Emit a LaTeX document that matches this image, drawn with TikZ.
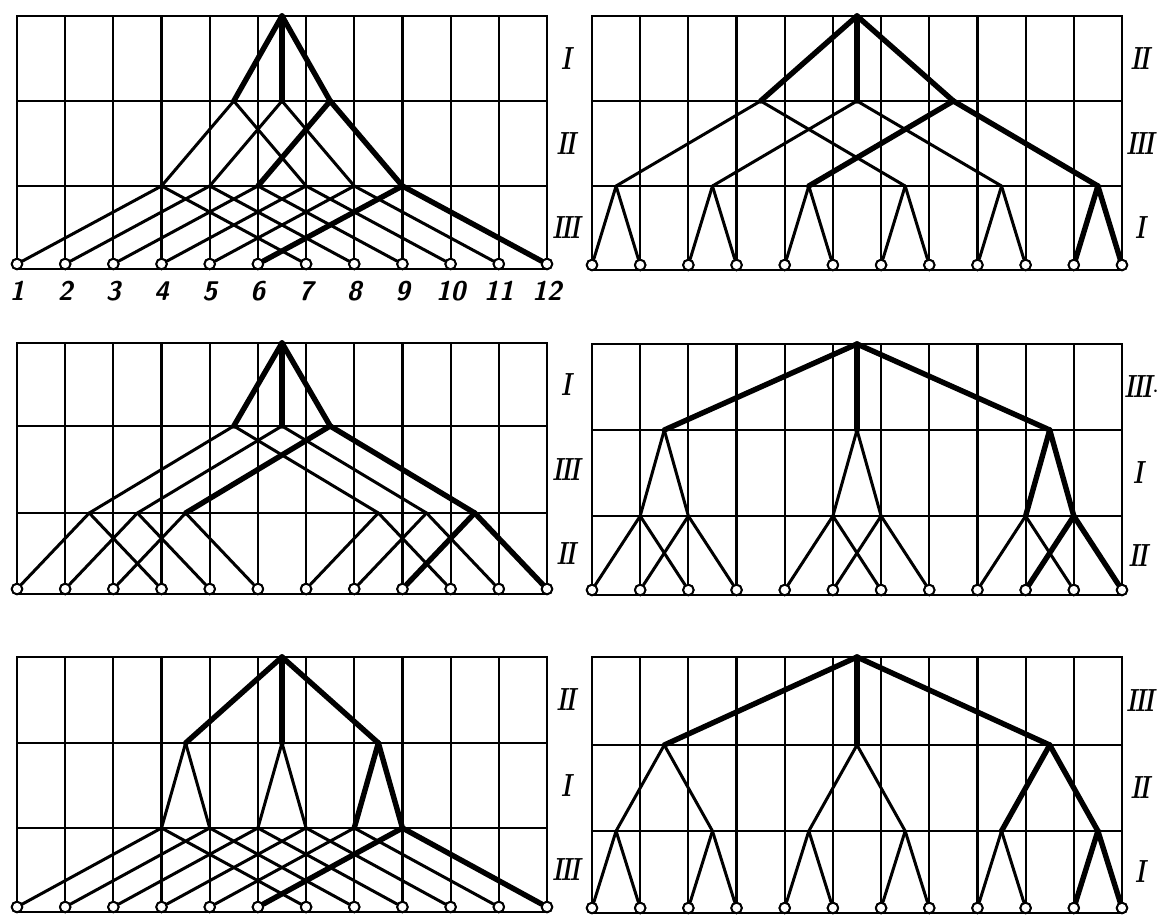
\documentclass[tikz,border=0pt]{standalone}
\usepackage{graphicx}
\begin{document}
\newcommand{\RN}[1]{\scalebox{0.72}[1]{#1}}
\newcommand{\rI}{\RN{I}}
\newcommand{\rII}{\RN{I\kern-3pt I}}
\newcommand{\rIII}{\RN{I\kern-3pt I\kern-3pt I}}
\begin{tikzpicture}[x=1pt,y=-1pt,
  gridln/.style={line width=2.2pt},
  tl/.style={line width=3pt, line cap=round},
  tk/.style={line width=5.4pt, line cap=round},
  leafc/.style={circle, draw, line width=1.9pt, fill=white, inner sep=0pt, minimum size=10.5pt},
  lvl/.style={font=\fontsize{32}{32}\selectfont\bfseries\itshape, inner sep=0pt},
  num/.style={font=\fontsize{27}{27}\selectfont\sffamily\bfseries\itshape, inner sep=0pt}]
\useasboundingbox (0,0) rectangle (1164,915);
\def\pD{48.18}
\newcommand{\drawpanel}[3]{%
  \draw[gridln] (\pX,\pT) rectangle ({\pX+11*\pD},\pB);
  \foreach \i in {1,...,10} \draw[gridln] ({\pX+\i*\pD},\pT) -- ({\pX+\i*\pD},\pB);
  \draw[gridln] (\pX,\pYa) -- ({\pX+11*\pD},\pYa);
  \draw[gridln] (\pX,\pYb) -- ({\pX+11*\pD},\pYb);
  \coordinate (#1r) at ({\pX+5.5*\pD},\pT);
  \foreach \c [count=\k] in {#2} \coordinate (#1a\k) at ({\pX+\c*\pD},\pYa);
  \foreach \c [count=\k] in {#3} \coordinate (#1b\k) at ({\pX+\c*\pD},\pYb);
  \foreach \i in {1,...,12} \node[leafc] (#1l\i) at ({\pX+(\i-1)*\pD},{\pB-5}) {};
}
\newcommand{\edges}[3]{%
  \foreach \u/\v in {#2} \draw[tl] (#1\u) -- (#1\v);
  \foreach \u/\v in {#3} \draw[tk] (#1\u) -- (#1\v);
  \foreach \i in {1,...,12} \node[leafc] at (#1l\i) {};
}
\newcommand{\levels}[5]{%
  \node[lvl] (#1t1) at (#2,{(\pT+\pYa)/2}) {#3};
  \node[lvl] (#1t2) at (#2,{(\pYa+\pYb)/2}) {#4};
  \node[lvl] (#1t3) at (#2,{(\pYb+\pB)/2}) {#5};
}
% Panel A
\def\pX{17}\def\pT{16}\def\pYa{101}\def\pYb{186}\def\pB{269}
\drawpanel{A}{4.5,5.5,6.5}{3,4,5,6,7,8}
\edges{A}{a1/b1,a1/b4,a2/b2,a2/b5,b1/l1,b1/l7,b2/l2,b2/l8,b3/l3,b3/l9,b4/l4,b4/l10,b5/l5,b5/l11}{r/a1,r/a2,r/a3,a3/b3,a3/b6,b6/l6,b6/l12}
\levels{A}{566}{\rI}{\rII}{\rIII}
\foreach \i in {1,...,12} \node[num] (An\i) at ({\pX+(\i-1)*\pD},291) {\i};
% Panel B
\def\pX{592}\def\pT{16}\def\pYa{101}\def\pYb{186}\def\pB{270}
\drawpanel{B}{3.5,5.5,7.5}{0.5,2.5,4.5,6.5,8.5,10.5}
\edges{B}{a1/b1,a1/b4,a2/b2,a2/b5,b1/l1,b1/l2,b2/l3,b2/l4,b3/l5,b3/l6,b4/l7,b4/l8,b5/l9,b5/l10}{r/a1,r/a2,r/a3,a3/b3,a3/b6,b6/l11,b6/l12}
\levels{B}{1140}{\rII}{\rIII}{\rI}
% Panel C
\def\pX{17}\def\pT{343}\def\pYa{426}\def\pYb{513}\def\pB{594}
\drawpanel{C}{4.5,5.5,6.5}{1.5,2.5,3.5,7.5,8.5,9.5}
\edges{C}{a1/b1,a1/b4,a2/b2,a2/b5,b1/l1,b1/l4,b2/l2,b2/l5,b3/l3,b3/l6,b4/l7,b4/l10,b5/l8,b5/l11}{r/a1,r/a2,r/a3,a3/b3,a3/b6,b6/l9,b6/l12}
\levels{C}{566}{\rI}{\rIII}{\rII}
% Panel D
\def\pX{592}\def\pT{344}\def\pYa{430}\def\pYb{516}\def\pB{595}
\drawpanel{D}{1.5,5.5,9.5}{1,2,5,6,9,10}
\edges{D}{a1/b1,a1/b2,a2/b3,a2/b4,b1/l1,b1/l3,b2/l2,b2/l4,b3/l5,b3/l7,b4/l6,b4/l8,b5/l9,b5/l11}{r/a1,r/a2,r/a3,a3/b5,a3/b6,b6/l10,b6/l12}
\levels{D}{1138}{\rIII\rlap{$\cdot$}}{\rI}{\rII}
% Panel E
\def\pX{17}\def\pT{657}\def\pYa{743}\def\pYb{828}\def\pB{912}
\drawpanel{E}{3.5,5.5,7.5}{3,4,5,6,7,8}
\edges{E}{a1/b1,a1/b2,a2/b3,a2/b4,b1/l1,b1/l7,b2/l2,b2/l8,b3/l3,b3/l9,b4/l4,b4/l10,b5/l5,b5/l11}{r/a1,r/a2,r/a3,a3/b5,a3/b6,b6/l6,b6/l12}
\levels{E}{566}{\rII}{\rI}{\rIII}
% Panel F
\def\pX{592}\def\pT{657}\def\pYa{745}\def\pYb{831}\def\pB{913}
\drawpanel{F}{1.5,5.5,9.5}{0.5,2.5,4.5,6.5,8.5,10.5}
\edges{F}{a1/b1,a1/b2,a2/b3,a2/b4,b1/l1,b1/l2,b2/l3,b2/l4,b3/l5,b3/l6,b4/l7,b4/l8,b5/l9,b5/l10}{r/a1,r/a2,r/a3,a3/b5,a3/b6,b6/l11,b6/l12}
\levels{F}{1140}{\rIII}{\rII}{\rI}
\end{tikzpicture}
\end{document}
